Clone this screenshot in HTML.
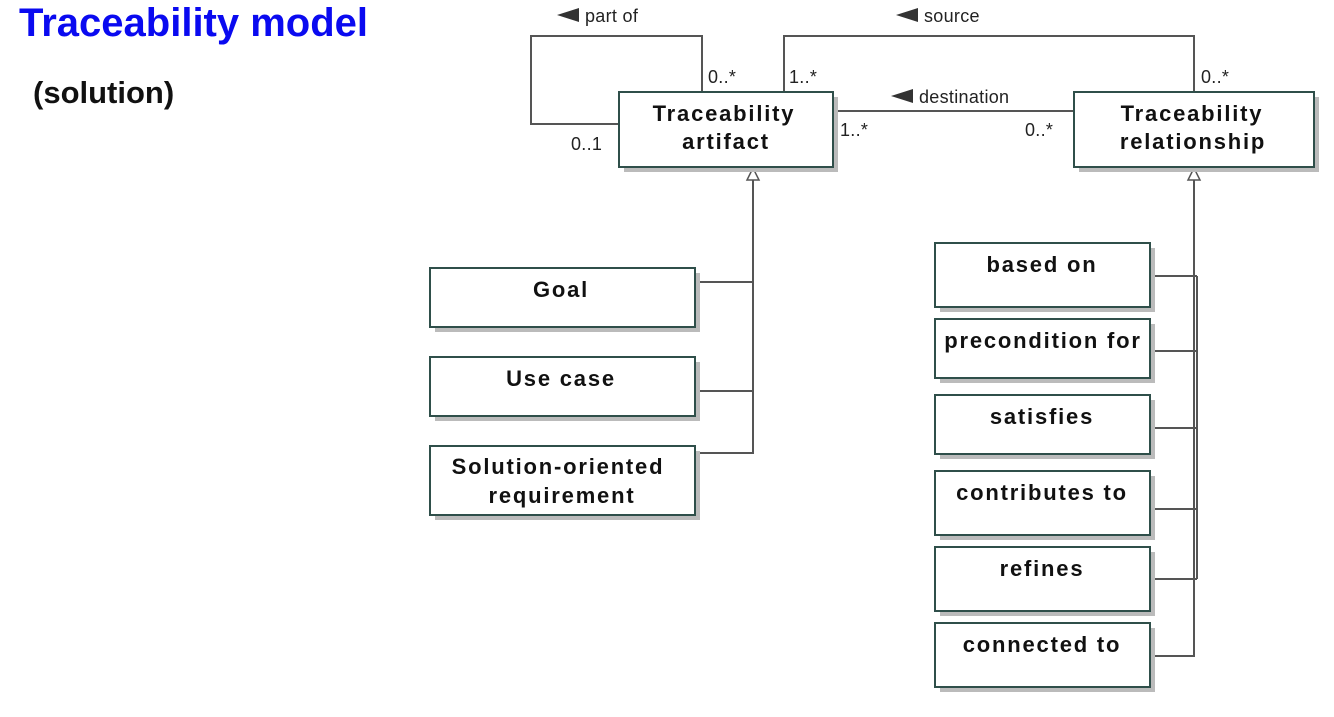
<!DOCTYPE html>
<html><head><meta charset="utf-8"><style>
html,body{margin:0;padding:0;background:#fff;}
svg{display:block;}
.t{font-family:"Liberation Sans",sans-serif;font-weight:bold;font-size:22px;fill:#111;letter-spacing:1.8px;text-anchor:middle;}
.s{font-family:"Liberation Sans",sans-serif;font-size:18px;fill:#222;letter-spacing:0.3px;}
</style></head><body>
<svg width="1334" height="717" viewBox="0 0 1334 717" xmlns="http://www.w3.org/2000/svg">
<text x="19" y="36" font-family="Liberation Sans, sans-serif" font-weight="bold" font-size="40" fill="#0a0af0">Traceability model</text>
<text x="33" y="103" font-family="Liberation Sans, sans-serif" font-weight="bold" font-size="31" fill="#111">(solution)</text>

<g fill="none" stroke="#555" stroke-width="2">
<polyline points="702,92 702,36 531,36 531,124 619,124"/>
<polyline points="784,92 784,36 1194,36 1194,92"/>
<line x1="833" y1="111" x2="1074" y2="111"/>
<polyline points="753,180 753,453 695,453"/>
<line x1="695" y1="282" x2="753" y2="282"/>
<line x1="695" y1="391" x2="753" y2="391"/>
<polyline points="1194,180 1194,656 1150,656"/>
<polyline points="1197,276 1197,579"/>
<line x1="1150" y1="276" x2="1197" y2="276"/>
<line x1="1150" y1="351" x2="1197" y2="351"/>
<line x1="1150" y1="428" x2="1197" y2="428"/>
<line x1="1150" y1="509" x2="1197" y2="509"/>
<line x1="1150" y1="579" x2="1197" y2="579"/>
</g>
<polygon points="753,168 747,180 759,180" fill="#fff" stroke="#555" stroke-width="1.5"/>
<polygon points="1194,168 1188,180 1200,180" fill="#fff" stroke="#555" stroke-width="1.5"/>

<polygon points="557,15 579,8 579,22" fill="#333"/>
<text class="s" x="585" y="22">part of</text>
<polygon points="896,15 918,8 918,22" fill="#333"/>
<text class="s" x="924" y="22">source</text>
<polygon points="891,96 913,89 913,103" fill="#333"/>
<text class="s" x="919" y="103">destination</text>
<text class="s" x="708" y="83">0..*</text>
<text class="s" x="789" y="83">1..*</text>
<text class="s" x="571" y="150">0..1</text>
<text class="s" x="840" y="136">1..*</text>
<text class="s" x="1025" y="136">0..*</text>
<text class="s" x="1201" y="83">0..*</text>

<g fill="#bbb">
<rect x="624" y="97" width="214" height="75"/>
<rect x="1079" y="97" width="240" height="75"/>
<rect x="435" y="273" width="265" height="59"/>
<rect x="435" y="362" width="265" height="59"/>
<rect x="435" y="451" width="265" height="69"/>
<rect x="940" y="248" width="215" height="64"/>
<rect x="940" y="324" width="215" height="59"/>
<rect x="940" y="400" width="215" height="59"/>
<rect x="940" y="476" width="215" height="64"/>
<rect x="940" y="552" width="215" height="64"/>
<rect x="940" y="628" width="215" height="64"/>
</g>
<g fill="#fff" stroke="#2f4f4a" stroke-width="2">
<rect x="619" y="92" width="214" height="75"/>
<rect x="1074" y="92" width="240" height="75"/>
<rect x="430" y="268" width="265" height="59"/>
<rect x="430" y="357" width="265" height="59"/>
<rect x="430" y="446" width="265" height="69"/>
<rect x="935" y="243" width="215" height="64"/>
<rect x="935" y="319" width="215" height="59"/>
<rect x="935" y="395" width="215" height="59"/>
<rect x="935" y="471" width="215" height="64"/>
<rect x="935" y="547" width="215" height="64"/>
<rect x="935" y="623" width="215" height="64"/>
</g>
<text class="t" x="724" y="121">Traceability</text>
<text class="t" x="726" y="149">artifact</text>
<text class="t" x="1192" y="121">Traceability</text>
<text class="t" x="1193" y="149">relationship</text>
<text class="t" x="561" y="297">Goal</text>
<text class="t" x="561" y="386">Use case</text>
<text class="t" x="558" y="474">Solution-oriented</text>
<text class="t" x="562" y="503">requirement</text>
<text class="t" x="1042" y="272">based on</text>
<text class="t" x="1043" y="348">precondition for</text>
<text class="t" x="1042" y="424">satisfies</text>
<text class="t" x="1042" y="500">contributes to</text>
<text class="t" x="1042" y="576">refines</text>
<text class="t" x="1042" y="652">connected to</text>
</svg>
</body></html>
